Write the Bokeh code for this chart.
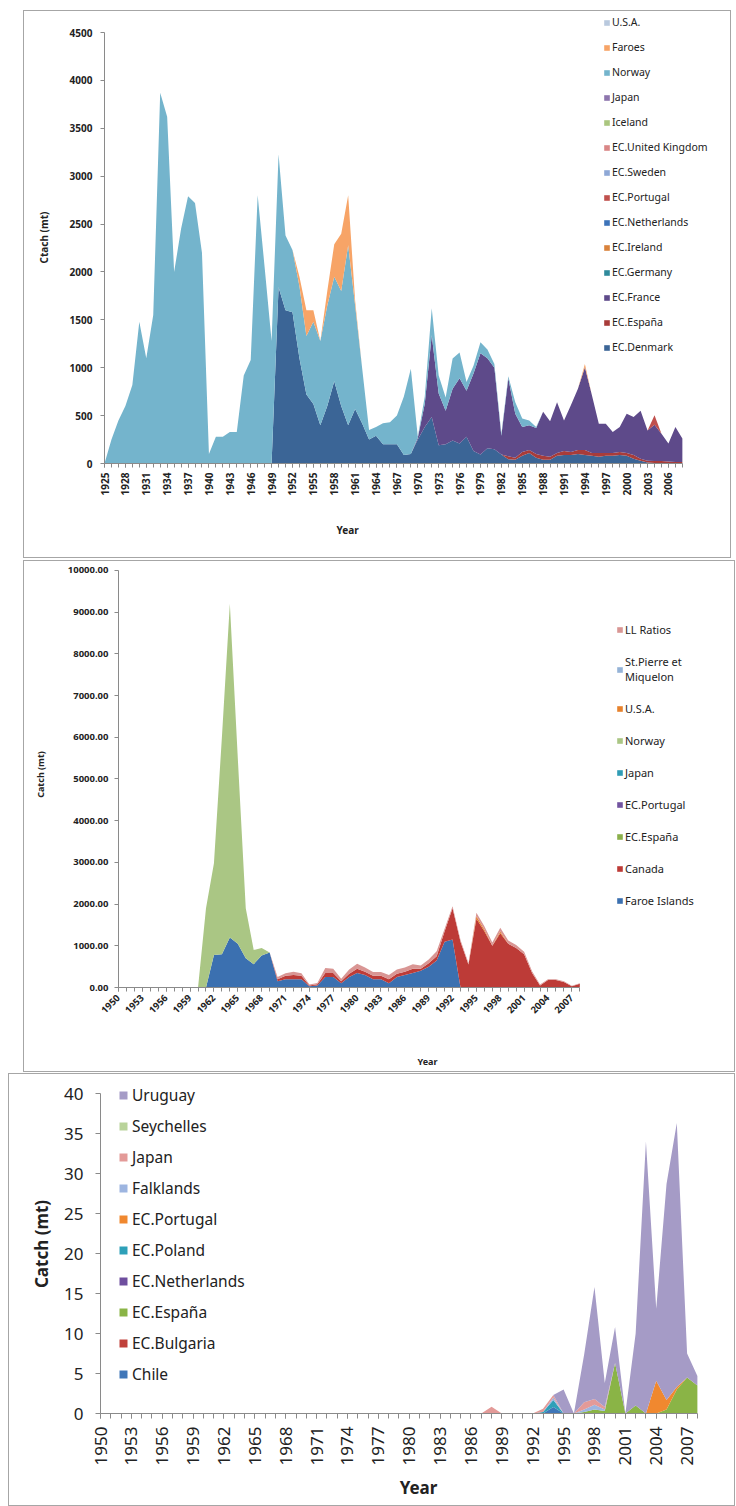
from math import pi
from bokeh.plotting import figure
from bokeh.models import (ColumnDataSource, Legend, LegendItem, FixedTicker,
                          NumeralTickFormatter, Range1d, Title)
from bokeh.layouts import column
from bokeh.embed import file_html
from bokeh.resources import INLINE

FONT = "Noto Sans"

# ======================= Panel 1 data (1925-2008) =======================
years_1 = list(range(1925, 2009))
p1_names = ["EC.Denmark", "EC.España", "EC.France", "EC.Germany", "EC.Ireland",
            "EC.Netherlands", "EC.Portugal", "EC.Sweden", "EC.United Kingdom",
            "Iceland", "Japan", "Norway", "Faroes", "U.S.A."]
p1_colors = ["#3b6596", "#a83c3a", "#5e4a8a", "#2f8a9b", "#d9823b",
             "#3d73b9", "#c0504d", "#8ea8d6", "#d98686",
             "#aac67f", "#8d75ad", "#74b4cc", "#f7a467", "#b9c9de"]
p1_denmark = [0, 0, 0, 0, 0, 0, 0, 0, 0, 0,
              0, 0, 0, 0, 0, 0, 0, 0, 0, 0,
              0, 0, 0, 0, 0, 1840, 1600, 1580, 1100, 720,
              620, 400, 600, 860, 600, 400, 570, 420, 250, 290,
              200, 200, 200, 90, 100, 250, 380, 485, 190, 200,
              240, 210, 280, 130, 95, 160, 150, 95, 45, 40,
              80, 110, 60, 40, 40, 80, 90, 90, 100, 90,
              80, 70, 80, 80, 90, 80, 50, 30, 10, 5,
              5, 5, 5, 5]
p1_espana = [0, 0, 0, 0, 0, 0, 0, 0, 0, 0,
             0, 0, 0, 0, 0, 0, 0, 0, 0, 0,
             0, 0, 0, 0, 0, 0, 0, 0, 0, 0,
             0, 0, 0, 0, 0, 0, 0, 0, 0, 0,
             0, 0, 0, 0, 0, 0, 0, 0, 0, 0,
             0, 0, 0, 0, 0, 0, 0, 0, 30, 20,
             40, 30, 40, 40, 30, 30, 40, 30, 40, 50,
             30, 40, 30, 30, 30, 30, 40, 20, 20, 20,
             20, 15, 10, 10]
p1_france = [0, 0, 0, 0, 0, 0, 0, 0, 0, 0,
             0, 0, 0, 0, 0, 0, 0, 0, 0, 0,
             0, 0, 0, 0, 0, 0, 0, 0, 0, 0,
             0, 0, 0, 0, 0, 0, 0, 0, 0, 0,
             0, 0, 0, 0, 0, 20, 245, 855, 540, 350,
             540, 680, 480, 810, 1055, 940, 850, 195, 815, 460,
             260, 260, 270, 460, 370, 530, 320, 490, 640, 865,
             605, 305, 305, 220, 260, 410, 395, 500, 315, 380,
             285, 190, 365, 245]
p1_zero = [0, 0, 0, 0, 0, 0, 0, 0, 0, 0,
           0, 0, 0, 0, 0, 0, 0, 0, 0, 0,
           0, 0, 0, 0, 0, 0, 0, 0, 0, 0,
           0, 0, 0, 0, 0, 0, 0, 0, 0, 0,
           0, 0, 0, 0, 0, 0, 0, 0, 0, 0,
           0, 0, 0, 0, 0, 0, 0, 0, 0, 0,
           0, 0, 0, 0, 0, 0, 0, 0, 0, 0,
           0, 0, 0, 0, 0, 0, 0, 0, 0, 0,
           0, 0, 0, 0]
p1_germany = list(p1_zero)
p1_ireland = list(p1_zero)
p1_netherlands = list(p1_zero)
p1_portugal = [0, 0, 0, 0, 0, 0, 0, 0, 0, 0,
               0, 0, 0, 0, 0, 0, 0, 0, 0, 0,
               0, 0, 0, 0, 0, 0, 0, 0, 0, 0,
               0, 0, 0, 0, 0, 0, 0, 0, 0, 0,
               0, 0, 0, 0, 0, 0, 0, 0, 0, 0,
               0, 0, 0, 0, 0, 0, 0, 0, 0, 0,
               0, 0, 0, 0, 0, 0, 0, 0, 0, 0,
               0, 0, 0, 0, 0, 0, 0, 0, 0, 100,
               0, 0, 0, 0]
p1_sweden = list(p1_zero)
p1_uk = list(p1_zero)
p1_iceland = list(p1_zero)
p1_japan = list(p1_zero)
p1_norway = [0, 250, 450, 600, 820, 1480, 1100, 1550, 3870, 3620,
             2000, 2450, 2790, 2720, 2200, 100, 280, 280, 330, 330,
             920, 1080, 2800, 2050, 1280, 1390, 780, 650, 750, 610,
             860, 880, 1050, 1090, 1200, 1880, 1080, 580, 100, 90,
             220, 230, 300, 610, 890, 10, 75, 280, 190, 140,
             315, 270, 90, 80, 115, 90, 40, 20, 20, 120,
             90, 50, 10, 0, 0, 0, 0, 0, 0, 0,
             0, 0, 0, 0, 0, 0, 0, 0, 0, 0,
             0, 0, 0, 0]
p1_faroes = [0, 0, 0, 0, 0, 0, 0, 0, 0, 0,
             0, 0, 0, 0, 0, 0, 0, 0, 0, 0,
             0, 0, 0, 0, 0, 0, 0, 0, 100, 270,
             120, 0, 150, 340, 600, 520, 50, 0, 0, 0,
             0, 0, 0, 0, 0, 0, 0, 0, 0, 0,
             0, 0, 0, 0, 0, 0, 0, 0, 0, 0,
             0, 0, 0, 0, 0, 0, 0, 0, 0, 35,
             0, 0, 0, 0, 0, 0, 0, 0, 0, 0,
             0, 0, 0, 0]
p1_usa = list(p1_zero)
p1_series = [p1_denmark, p1_espana, p1_france, p1_germany, p1_ireland,
             p1_netherlands, p1_portugal, p1_sweden, p1_uk, p1_iceland,
             p1_japan, p1_norway, p1_faroes, p1_usa]
p1_yticks = [0, 500, 1000, 1500, 2000, 2500, 3000, 3500, 4000, 4500]

# ======================= Panel 2 data (1950-2008) =======================
years_2 = list(range(1950, 2009))
p2_names = ["Faroe Islands", "Canada", "EC.España", "EC.Portugal", "Japan",
            "Norway", "U.S.A.", "St.Pierre et\nMiquelon", "LL Ratios"]
p2_colors = ["#3b70b0", "#bd3b37", "#8bb04b", "#7254a0", "#2f9cb5",
             "#aac684", "#e7822d", "#95b3d7", "#d99694"]
p2_faroe = [0, 0, 0, 0, 0, 0, 0, 0, 0, 0,
            0, 0, 780, 800, 1200, 1050, 700, 560, 770, 840,
            150, 200, 200, 200, 30, 50, 250, 250, 100, 250,
            350, 300, 200, 200, 100, 250, 300, 350, 400, 500,
            650, 1100, 1150, 0, 0, 0, 0, 0, 0, 0,
            0, 0, 0, 0, 0, 0, 0, 0, 0]
p2_canada = [0, 0, 0, 0, 0, 0, 0, 0, 0, 0,
             0, 0, 0, 0, 0, 0, 0, 0, 0, 0,
             50, 80, 100, 80, 20, 30, 100, 100, 50, 80,
             100, 80, 80, 80, 100, 80, 80, 100, 50, 80,
             100, 250, 750, 1100, 550, 1650, 1350, 1000, 1300, 1050,
             950, 800, 350, 50, 180, 180, 130, 30, 90]
p2_zero = [0, 0, 0, 0, 0, 0, 0, 0, 0, 0,
           0, 0, 0, 0, 0, 0, 0, 0, 0, 0,
           0, 0, 0, 0, 0, 0, 0, 0, 0, 0,
           0, 0, 0, 0, 0, 0, 0, 0, 0, 0,
           0, 0, 0, 0, 0, 0, 0, 0, 0, 0,
           0, 0, 0, 0, 0, 0, 0, 0, 0]
p2_espana = list(p2_zero)
p2_portugal = list(p2_zero)
p2_japan = list(p2_zero)
p2_norway = [0, 0, 0, 0, 0, 0, 0, 0, 0, 0,
             0, 1900, 2200, 5200, 8000, 4450, 1200, 340, 180, 0,
             0, 0, 0, 0, 0, 0, 0, 0, 0, 0,
             0, 0, 0, 0, 0, 0, 0, 0, 0, 0,
             0, 0, 0, 0, 0, 0, 0, 0, 0, 0,
             0, 0, 0, 0, 0, 0, 0, 0, 0]
p2_usa = [0, 0, 0, 0, 0, 0, 0, 0, 0, 0,
          0, 0, 0, 0, 0, 0, 0, 0, 0, 0,
          0, 0, 0, 0, 0, 0, 0, 0, 0, 0,
          0, 0, 0, 0, 0, 0, 0, 0, 0, 0,
          0, 0, 0, 0, 0, 60, 40, 0, 40, 0,
          0, 0, 0, 0, 0, 0, 0, 0, 0]
p2_stpierre = list(p2_zero)
p2_llratios = [0, 0, 0, 0, 0, 0, 0, 0, 0, 0,
               0, 0, 0, 0, 0, 0, 0, 0, 0, 0,
               50, 60, 80, 60, 20, 30, 120, 100, 60, 100,
               120, 100, 90, 90, 100, 100, 100, 110, 80, 90,
               120, 60, 50, 40, 40, 80, 80, 80, 90, 80,
               70, 60, 40, 20, 20, 20, 20, 10, 10]
p2_series = [p2_faroe, p2_canada, p2_espana, p2_portugal, p2_japan,
             p2_norway, p2_usa, p2_stpierre, p2_llratios]
p2_yticks = [0, 1000, 2000, 3000, 4000, 5000, 6000, 7000, 8000, 9000, 10000]

# ======================= Panel 3 data (1950-2008) =======================
years_3 = list(range(1950, 2009))
p3_names = ["Chile", "EC.Bulgaria", "EC.España", "EC.Netherlands", "EC.Poland",
            "EC.Portugal", "Falklands", "Japan", "Seychelles", "Uruguay"]
p3_colors = ["#3f76b8", "#c0413b", "#8ab446", "#6e4e9e", "#2ea0b8",
             "#f0882f", "#9db5e0", "#e39a98", "#b9d39a", "#a59bc6"]
p3_zero = [0, 0, 0, 0, 0, 0, 0, 0, 0, 0,
           0, 0, 0, 0, 0, 0, 0, 0, 0, 0,
           0, 0, 0, 0, 0, 0, 0, 0, 0, 0,
           0, 0, 0, 0, 0, 0, 0, 0, 0, 0,
           0, 0, 0, 0, 0, 0, 0, 0, 0, 0,
           0, 0, 0, 0, 0, 0, 0, 0, 0]
p3_chile = [0, 0, 0, 0, 0, 0, 0, 0, 0, 0,
            0, 0, 0, 0, 0, 0, 0, 0, 0, 0,
            0, 0, 0, 0, 0, 0, 0, 0, 0, 0,
            0, 0, 0, 0, 0, 0, 0, 0, 0, 0,
            0, 0, 0, 0, 0.8, 0, 0, 0, 0, 0,
            0, 0, 0, 0, 0, 0, 0, 0, 0]
p3_bulgaria = list(p3_zero)
p3_espana = [0, 0, 0, 0, 0, 0, 0, 0, 0, 0,
             0, 0, 0, 0, 0, 0, 0, 0, 0, 0,
             0, 0, 0, 0, 0, 0, 0, 0, 0, 0,
             0, 0, 0, 0, 0, 0, 0, 0, 0, 0,
             0, 0, 0, 0, 0, 0, 0, 0.2, 0.5, 0.3,
             6.3, 0, 1.0, 0, 0, 0.5, 3.0, 4.5, 3.5]
p3_netherlands = list(p3_zero)
p3_poland = [0, 0, 0, 0, 0, 0, 0, 0, 0, 0,
             0, 0, 0, 0, 0, 0, 0, 0, 0, 0,
             0, 0, 0, 0, 0, 0, 0, 0, 0, 0,
             0, 0, 0, 0, 0, 0, 0, 0, 0, 0,
             0, 0, 0, 0.2, 0.9, 0, 0, 0, 0, 0,
             0, 0, 0, 0, 0, 0, 0, 0, 0]
p3_portugal = [0, 0, 0, 0, 0, 0, 0, 0, 0, 0,
               0, 0, 0, 0, 0, 0, 0, 0, 0, 0,
               0, 0, 0, 0, 0, 0, 0, 0, 0, 0,
               0, 0, 0, 0, 0, 0, 0, 0, 0, 0,
               0, 0, 0, 0, 0, 0, 0, 0, 0, 0,
               0, 0, 0, 0, 4.1, 1.2, 0.3, 0, 0]
p3_falklands = [0, 0, 0, 0, 0, 0, 0, 0, 0, 0,
                0, 0, 0, 0, 0, 0, 0, 0, 0, 0,
                0, 0, 0, 0, 0, 0, 0, 0, 0, 0,
                0, 0, 0, 0, 0, 0, 0, 0, 0, 0,
                0, 0, 0, 0, 0.3, 0, 0, 0.3, 0.6, 0.2,
                0, 0, 0, 0, 0, 0, 0, 0, 0]
p3_japan = [0, 0, 0, 0, 0, 0, 0, 0, 0, 0,
            0, 0, 0, 0, 0, 0, 0, 0, 0, 0,
            0, 0, 0, 0, 0, 0, 0, 0, 0, 0,
            0, 0, 0, 0, 0, 0, 0, 0, 0.85, 0,
            0, 0, 0, 0.4, 0.3, 0, 0, 0.9, 0.7, 0.3,
            0, 0, 0, 0, 0, 0, 0, 0, 0]
p3_seychelles = list(p3_zero)
p3_uruguay = [0, 0, 0, 0, 0, 0, 0, 0, 0, 0,
              0, 0, 0, 0, 0, 0, 0, 0, 0, 0,
              0, 0, 0, 0, 0, 0, 0, 0, 0, 0,
              0, 0, 0, 0, 0, 0, 0, 0, 0, 0,
              0, 0, 0, 0, 0, 3.0, 0, 6.0, 14.0, 3.0,
              4.5, 0, 9.0, 34.0, 9.0, 27.0, 33.0, 3.0, 1.2]
p3_series = [p3_chile, p3_bulgaria, p3_espana, p3_netherlands, p3_poland,
             p3_portugal, p3_falklands, p3_japan, p3_seychelles, p3_uruguay]
p3_yticks = [0, 5, 10, 15, 20, 25, 30, 35, 40]

AXIS_COLOR = "#8a8a8a"
TEXT_COLOR = "#222222"
BOX = {"border": "1px solid #a6a6a6"}


def add_stack(p, years, names, series, colors):
    data = {"year": years}
    keys = []
    for i, s in enumerate(series):
        k = "s%d" % i
        data[k] = s
        keys.append(k)
    src = ColumnDataSource(data)
    rs = p.varea_stack(stackers=keys, x="year", color=colors, source=src)
    items = [LegendItem(label=n, renderers=[r]) for n, r in zip(names, rs)]
    return items[::-1]


def style_axes(p, tick_size, tick_bold, label_size):
    for ax in (p.xaxis[0], p.yaxis[0]):
        ax.axis_line_color = AXIS_COLOR
        ax.major_tick_line_color = AXIS_COLOR
        ax.minor_tick_line_color = AXIS_COLOR
        ax.major_tick_in = 0
        ax.minor_tick_in = 0
        ax.major_label_text_font = FONT
        ax.major_label_text_font_size = tick_size
        ax.major_label_text_font_style = "bold" if tick_bold else "normal"
        ax.major_label_text_color = TEXT_COLOR
        ax.axis_label_text_font = FONT
        ax.axis_label_text_font_size = label_size
        ax.axis_label_text_font_style = "bold"
        ax.axis_label_text_color = TEXT_COLOR
    p.xgrid.visible = False
    p.ygrid.visible = False
    p.outline_line_color = None


def style_legend(lg, size, label_h, glyph, spacing):
    lg.background_fill_alpha = 0
    lg.border_line_color = None
    lg.padding = 0
    lg.margin = 0
    lg.spacing = spacing
    lg.label_height = label_h
    lg.glyph_height = glyph
    lg.glyph_width = glyph
    lg.label_standoff = 2
    lg.label_text_font = FONT
    lg.label_text_font_size = size
    lg.label_text_color = TEXT_COLOR


# ----------------------------- Panel 1 -----------------------------
p1 = figure(width=708, height=548, output_backend="svg", toolbar_location=None,
            tools="", x_range=Range1d(1925, 2015.2), y_range=Range1d(0, 4719.3),
            min_border_left=80, min_border_right=0, min_border_top=0,
            min_border_bottom=96, frame_align=False,
            margin=(10, 0, 0, 23), styles=BOX)
items1 = add_stack(p1, years_1, p1_names, p1_series, p1_colors)
style_axes(p1, "10px", True, "10px")
p1.xaxis.ticker = FixedTicker(ticks=years_1[::3], minor_ticks=years_1)
p1.xaxis.bounds = (1925, 2008)
p1.xaxis.major_label_orientation = pi / 2
p1.xaxis.major_tick_out = 4
p1.xaxis.minor_tick_out = 4
p1.yaxis.ticker = FixedTicker(ticks=p1_yticks)
p1.yaxis.bounds = (0, 4500)
p1.yaxis.minor_tick_out = 0
p1.yaxis.major_tick_out = 4
p1.yaxis.major_label_standoff = 8
p1.yaxis.axis_label = "Ctach (mt)"
p1.yaxis.axis_label_standoff = 16
lg1 = Legend(items=items1, location=(499, 109))
style_legend(lg1, "10.5px", 12, 7, 11)
p1.add_layout(lg1)
p1.add_layout(Title(text="Year", align="left", offset=232, standoff=45,
                    text_font=FONT, text_font_size="10px", text_font_style="bold",
                    text_color=TEXT_COLOR), "below")

# ----------------------------- Panel 2 -----------------------------
p2 = figure(width=712, height=512, output_backend="svg", toolbar_location=None,
            tools="", x_range=Range1d(1950, 2027.7), y_range=Range1d(0, 10215.8),
            min_border_left=94, min_border_right=0, min_border_top=0,
            min_border_bottom=86, frame_align=False,
            margin=(2, 0, 0, 23), styles=BOX)
items2 = add_stack(p2, years_2, p2_names, p2_series, p2_colors)
style_axes(p2, "9.5px", True, "9px")
p2.xaxis.ticker = FixedTicker(ticks=years_2[::3], minor_ticks=years_2)
p2.xaxis.bounds = (1950, 2008)
p2.xaxis.major_label_orientation = pi / 4
p2.xaxis.major_tick_out = 4
p2.xaxis.minor_tick_out = 4
p2.xaxis.axis_label = "Year"
p2.xaxis.axis_label_standoff = 36
p2.yaxis.ticker = FixedTicker(ticks=p2_yticks)
p2.yaxis.formatter = NumeralTickFormatter(format="0.00")
p2.yaxis.bounds = (0, 10000)
p2.yaxis.minor_tick_out = 0
p2.yaxis.major_tick_out = 4
p2.yaxis.major_label_standoff = 6
p2.yaxis.axis_label = "Catch (mt)"
p2.yaxis.axis_label_standoff = 18
lg2 = Legend(items=items2, location=(498, 79))
style_legend(lg2, "11px", 14, 7, 17)
p2.add_layout(lg2)

# ----------------------------- Panel 3 -----------------------------
p3 = figure(width=727, height=433, output_backend="svg", toolbar_location=None,
            tools="", x_range=Range1d(1950, 2011.8), y_range=Range1d(0, 42.375),
            min_border_left=91, min_border_right=0, min_border_top=0,
            min_border_bottom=94, frame_align=False,
            margin=(1, 0, 0, 8), styles=BOX)
items3 = add_stack(p3, years_3, p3_names, p3_series, p3_colors)
style_axes(p3, "17px", False, "17px")
p3.xaxis.ticker = FixedTicker(ticks=years_3[::3], minor_ticks=years_3)
p3.xaxis.bounds = (1950, 2008)
p3.xaxis.major_label_orientation = pi / 2
p3.xaxis.major_tick_out = 5
p3.xaxis.minor_tick_out = 5
p3.xaxis.major_label_standoff = 8
p3.xaxis.axis_label = "Year"
p3.xaxis.axis_label_standoff = 8
p3.yaxis.ticker = FixedTicker(ticks=p3_yticks)
p3.yaxis.bounds = (0, 40)
p3.yaxis.minor_tick_out = 0
p3.yaxis.major_tick_out = 5
p3.yaxis.major_label_standoff = 12
p3.yaxis.axis_label = "Catch (mt)"
p3.yaxis.axis_label_standoff = 8
lg3 = Legend(items=items3, location=(18, 28))
style_legend(lg3, "15.5px", 18, 10, 9)
lg3.label_standoff = 4
p3.add_layout(lg3)

layout = column(p1, p2, p3, spacing=0)
open("out.html", "w").write(file_html(layout, INLINE))
